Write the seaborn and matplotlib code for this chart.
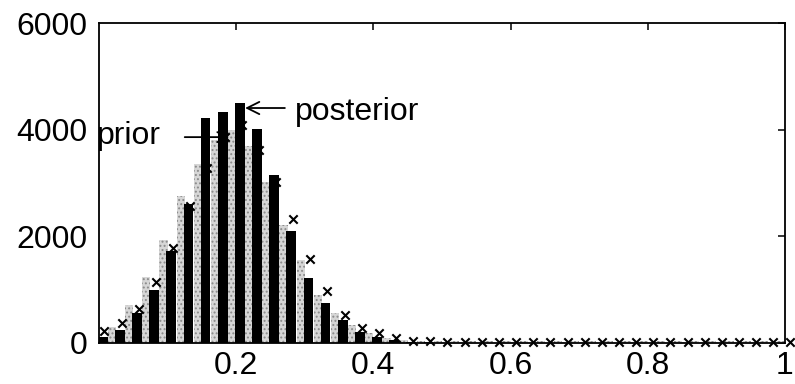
import numpy as np
import pandas as pd
import matplotlib
matplotlib.use("Agg")
import matplotlib.pyplot as plt
import seaborn as sns

# bin centres (0, 0.025, ..., 1.0)
bin_centers = [round(0.025 * k, 3) for k in range(41)]

# posterior counts (black bars)
posterior = [120, 244, 570, 994, 1725, 2600, 4224, 4324, 4506, 4006,
             3150, 2100, 1219, 756, 431, 200, 110, 60, 25, 12,
             8, 5, 5, 3, 3, 2, 2, 2, 1, 1,
             1, 1, 1, 1, 1, 1, 1, 1, 1, 1, 1]

# prior counts (grey bars)
prior = [200, 300, 712, 1240, 1931, 2760, 3350, 3800, 3990, 3700,
         3025, 2212, 1556, 900, 560, 340, 190, 100, 50, 40,
         40, 40, 40, 40, 40, 40, 40, 40, 40, 40,
         40, 40, 40, 40, 40, 40, 40, 40, 40, 40, 40]

# prior expected values (x markers)
prior_marks = [220, 380, 640, 1140, 1780, 2560, 3280, 3870, 4090, 3620,
               3020, 2320, 1575, 975, 525, 280, 190, 90, 45, 30,
               25, 20, 20, 20, 20, 20, 20, 20, 20, 20,
               20, 20, 20, 20, 20, 20, 20, 20, 20, 20, 20]

x_ticks = [0.2, 0.4, 0.6, 0.8, 1.0]
x_tick_labels = ["0.2", "0.4", "0.6", "0.8", "1"]
y_ticks = [0, 2000, 4000, 6000]
y_tick_labels = ["0", "2000", "4000", "6000"]

sns.set_theme(style="white")
plt.rcParams["font.family"] = ["Liberation Sans", "DejaVu Sans"]
plt.rcParams["hatch.color"] = "#8a8a8a"
plt.rcParams["hatch.linewidth"] = 0.9

fig = plt.figure(figsize=(7.95, 3.84), dpi=100)
ax = fig.add_axes([0.1245, 0.1068, 0.8629, 0.8333])

df = pd.DataFrame({
    "x": bin_centers * 2,
    "count": prior + posterior,
    "series": ["prior"] * len(prior) + ["posterior"] * len(posterior),
})

sns.barplot(data=df, x="x", y="count", hue="series",
            hue_order=["prior", "posterior"],
            palette={"prior": "#d6d6d6", "posterior": "#000000"},
            native_scale=True, width=0.95, dodge=True, errorbar=None,
            saturation=1, linewidth=0, legend=False, ax=ax)

# stipple texture on the prior bars, slightly wider posterior bars
for p in ax.patches:
    fc = p.get_facecolor()
    if fc[0] > 0.5:
        p.set_hatch("....")
        p.set_edgecolor("#8a8a8a")
        p.set_linewidth(0)
    else:
        x0, w = p.get_x(), p.get_width()
        p.set_x(x0 - 0.15 * w)
        p.set_width(1.2 * w)

sns.scatterplot(x=np.array(bin_centers) + 0.008, y=prior_marks, marker="x",
                color="black", s=36, linewidth=1.5, legend=False, ax=ax,
                zorder=4, clip_on=False)

ax.set_xlim(0, 1)
ax.set_ylim(0, 6000)
ax.set_xticks(x_ticks)
ax.set_xticklabels(x_tick_labels)
ax.set_yticks(y_ticks)
ax.set_yticklabels(y_tick_labels)
ax.set_xlabel("")
ax.set_ylabel("")
ax.tick_params(direction="in", top=True, right=True, length=5, width=1.1,
               labelsize=23, colors="black")
ax.tick_params(axis="x", pad=6)
ax.tick_params(axis="y", pad=8)
for s in ax.spines.values():
    s.set_visible(True)
    s.set_color("black")
    s.set_linewidth(1.3)

# annotations
ax.text(-0.003, 3881, "prior", ha="left", va="center", fontsize=23,
        color="black", clip_on=False, zorder=6)
ax.annotate("", xy=(0.19, 3860), xytext=(0.125, 3860),
            arrowprops=dict(arrowstyle="->", color="black", lw=1.3,
                            mutation_scale=18, shrinkA=0, shrinkB=0),
            zorder=5)
ax.text(0.286, 4331, "posterior", ha="left", va="center", fontsize=23,
        color="black", zorder=6)
ax.annotate("", xy=(0.213, 4406), xytext=(0.271, 4406),
            arrowprops=dict(arrowstyle="->", color="black", lw=1.3,
                            mutation_scale=22, shrinkA=0, shrinkB=0),
            zorder=5)

fig.savefig("out.png", dpi=100)
